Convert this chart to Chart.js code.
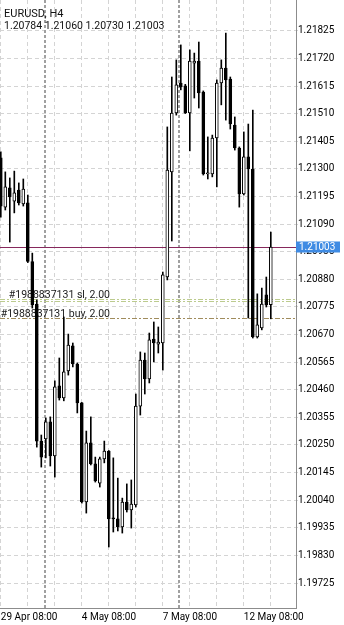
<!DOCTYPE html>
<html>
<head>
<meta charset="utf-8">
<script src="https://cdn.jsdelivr.net/npm/chart.js@4.4.0/dist/chart.umd.min.js"></script>
<style>
    html, body { margin: 0; padding: 0; background: #fff; }
    #tela { position: relative; width: 344px; height: 625px; }
    #grafico { display: block; }
    #cabecalho { position: absolute; left: 4px; top: 8px; font-family: Roboto, sans-serif; color: #111; pointer-events: none; }
    #simbolo { font-size: 11px; line-height: 12px; }
    #ohlc { font-size: 10.5px; line-height: 11px; }
</style>
</head>
<body>
<div id="tela">
    <canvas id="grafico" width="344" height="625"></canvas>
    <div id="cabecalho">
        <div id="simbolo">EURUSD, H4</div>
        <div id="ohlc"></div>
    </div>
</div>
<script>
// dados das velas H4 (indice da barra a partir de 29 Apr 08:00)
const abertura = [1.21342, 1.21155, 1.21228, 1.21178, 1.21220, 1.21167, 1.21171, 1.20948, 1.20786, 1.20265,
    1.20273, 1.20338, 1.20208, 1.20475, 1.20429, 1.20532, 1.20627, 1.20558, 1.20410, 1.20033,
    1.20258, 1.20178, 1.20105, 1.20197, 1.20227, 1.19972, 1.19969, 1.19938, 1.20033, 1.20003,
    1.20022, 1.20398, 1.20573, 1.20501, 1.20653, 1.20634, 1.20638, 1.20889, 1.21289, 1.21513,
    1.21627, 1.21616, 1.21513, 1.21703, 1.21711, 1.21593, 1.21281, 1.21281, 1.21418, 1.21627,
    1.21684, 1.21642, 1.21467, 1.21380, 1.21205, 1.21346, 1.21300, 1.20661, 1.20695, 1.20821,
    1.20784];
const maxima = [1.21365, 1.21289, 1.21266, 1.21292, 1.21247, 1.21262, 1.21201, 1.20980, 1.20802, 1.20288,
    1.20353, 1.20357, 1.20494, 1.20581, 1.20737, 1.20672, 1.20638, 1.20562, 1.20412, 1.20303,
    1.20357, 1.20204, 1.20204, 1.20265, 1.20229, 1.20201, 1.20124, 1.20048, 1.20102, 1.20117,
    1.20444, 1.20604, 1.20600, 1.20676, 1.20718, 1.20699, 1.20908, 1.21460, 1.21650, 1.21715,
    1.21772, 1.21622, 1.21753, 1.21741, 1.21783, 1.21597, 1.21422, 1.21429, 1.21639, 1.21715,
    1.21817, 1.21650, 1.21498, 1.21384, 1.21441, 1.21471, 1.21524, 1.20825, 1.20847, 1.20889,
    1.21060];
const minima = [1.21117, 1.21144, 1.21022, 1.21133, 1.21163, 1.21159, 1.20944, 1.20771, 1.20242, 1.20166,
    1.20201, 1.20170, 1.20128, 1.20421, 1.20418, 1.20516, 1.20547, 1.20372, 1.20029, 1.19991,
    1.20174, 1.20109, 1.20090, 1.20182, 1.19862, 1.19919, 1.19923, 1.19915, 1.19995, 1.19934,
    1.20014, 1.20364, 1.20444, 1.20486, 1.20566, 1.20600, 1.20535, 1.20878, 1.21026, 1.21505,
    1.21601, 1.21511, 1.21369, 1.21570, 1.21532, 1.21277, 1.21262, 1.21270, 1.21232, 1.21544,
    1.21486, 1.21452, 1.21372, 1.21155, 1.21201, 1.20733, 1.20657, 1.20657, 1.20688, 1.20775,
    1.20730];
const fechamento = [1.21159, 1.21232, 1.21194, 1.21209, 1.21171, 1.21224, 1.20948, 1.20783, 1.20265, 1.20204,
    1.20338, 1.20208, 1.20471, 1.20429, 1.20528, 1.20630, 1.20558, 1.20410, 1.20033, 1.20258,
    1.20178, 1.20113, 1.20197, 1.20227, 1.19969, 1.19969, 1.19938, 1.20033, 1.20003, 1.20025,
    1.20398, 1.20573, 1.20501, 1.20650, 1.20638, 1.20642, 1.20897, 1.21296, 1.21513, 1.21620,
    1.21612, 1.21513, 1.21711, 1.21711, 1.21589, 1.21281, 1.21285, 1.21418, 1.21627, 1.21684,
    1.21639, 1.21471, 1.21380, 1.21205, 1.21346, 1.21300, 1.20661, 1.20707, 1.20786, 1.20783,
    1.21003];

// eixo de tempo
const posRotulos = [0, 18, 36, 54];
const textoRotulos = ['29 Apr 08:00', '4 May 08:00', '7 May 08:00', '12 May 08:00'];
const gradeTempo = [0, 6, 12, 18, 24, 30, 36, 42, 48, 54, 60];
const separadores = [9.85, 39.7];

// eixo de preco
const precosEixo = [1.21825, 1.21720, 1.21615, 1.21510, 1.21405, 1.21300, 1.21195, 1.21090, 1.20985, 1.20880,
    1.20775, 1.20670, 1.20565, 1.20460, 1.20355, 1.20250, 1.20145, 1.20040, 1.19935, 1.19830, 1.19725];

// linhas de preco e ordens
const precoAtual = 1.21003;
const precoSl = 1.20800;
const precoBuy = 1.20732;
const textoSl = '#1988837131 sl, 2.00';
const textoBuy = '#1988837131 buy, 2.00';

var ultima = fechamento.length - 1;
document.getElementById('ohlc').textContent = abertura[ultima].toFixed(5) + ' ' + maxima[ultima].toFixed(5) + ' ' +
    minima[ultima].toFixed(5) + ' ' + fechamento[ultima].toFixed(5);

var corpos = [];
var pavios = [];
var cores = [];
for (var i = 0; i < abertura.length; i++) {
    corpos.push({ x: i, y: [abertura[i], fechamento[i]] });
    pavios.push({ x: i, y: [minima[i], maxima[i]] });
    cores.push(fechamento[i] >= abertura[i] ? '#ffffff' : '#000000');
}

function linhaHorizontal(ctx, area, y, cor, traco) {
    ctx.strokeStyle = cor;
    ctx.lineWidth = 1;
    ctx.setLineDash(traco);
    ctx.beginPath();
    ctx.moveTo(area.left, y);
    ctx.lineTo(area.right, y);
    ctx.stroke();
}

const extras = {
    id: 'extras',
    beforeDatasetsDraw(chart) {
        const ctx = chart.ctx;
        const area = chart.chartArea;
        const escX = chart.scales.x;
        const escY = chart.scales.y;
        ctx.save();

        // separadores de semana
        ctx.strokeStyle = '#a0a0a0';
        ctx.lineWidth = 2;
        ctx.setLineDash([3, 2]);
        separadores.forEach(function (s) {
            var px = Math.round(escX.getPixelForValue(s));
            ctx.beginPath();
            ctx.moveTo(px, area.top);
            ctx.lineTo(px, area.bottom);
            ctx.stroke();
        });

        // linha do preco atual
        var yAtual = Math.round(escY.getPixelForValue(precoAtual)) + 0.5;
        linhaHorizontal(ctx, area, yAtual, '#86285c', []);

        // linha sl (dupla)
        var ySl = Math.round(escY.getPixelForValue(precoSl)) + 0.5;
        linhaHorizontal(ctx, area, ySl - 1, '#bccb8e', [5, 2, 2, 2]);
        linhaHorizontal(ctx, area, ySl + 1, '#bccb8e', [5, 2, 2, 2]);

        // linha buy
        var yBuy = Math.round(escY.getPixelForValue(precoBuy)) + 0.5;
        linhaHorizontal(ctx, area, yBuy, '#a08c5c', [5, 2, 2, 2]);

        ctx.setLineDash([]);
        ctx.fillStyle = '#1a1a1a';
        ctx.font = '10.5px Roboto';
        ctx.textAlign = 'right';
        ctx.textBaseline = 'alphabetic';
        ctx.fillText(textoSl, 110, ySl - 3);
        ctx.fillText(textoBuy, 110, yBuy - 2);
        ctx.restore();
    },
    afterDraw(chart) {
        const ctx = chart.ctx;
        const area = chart.chartArea;
        var yAtual = Math.round(chart.scales.y.getPixelForValue(precoAtual));
        ctx.save();
        ctx.fillStyle = '#3f8be3';
        ctx.fillRect(area.right, yAtual - 5.5, 44, 11);
        ctx.fillStyle = '#ffffff';
        ctx.font = '10px Roboto';
        ctx.textAlign = 'left';
        ctx.textBaseline = 'middle';
        ctx.fillText(precoAtual.toFixed(5), area.right + 3, yAtual + 0.5);
        ctx.restore();
    }
};

const ctx = document.getElementById('grafico');

new Chart(ctx, {
    type: 'bar',
    data: {
        datasets: [{
            label: 'corpo',
            data: corpos,
            backgroundColor: cores,
            borderColor: '#000000',
            borderWidth: 1,
            borderSkipped: false,
            barThickness: 3,
            minBarLength: 1,
            grouped: false,
            order: 0
        }, {
            label: 'pavio',
            data: pavios,
            backgroundColor: '#000000',
            borderWidth: 0,
            barThickness: 1,
            grouped: false,
            order: 1
        }]
    },
    options: {
        responsive: false,
        animation: false,
        devicePixelRatio: 1,
        layout: { padding: 0 },
        plugins: {
            legend: { display: false },
            tooltip: { enabled: false }
        },
        scales: {
            x: {
                type: 'linear',
                position: 'bottom',
                min: -0.178,
                max: 65.6,
                offset: false,
                grid: { offset: false, color: '#d4d4d4', drawTicks: false },
                border: { color: '#8c8c8c', dash: [4, 3] },
                afterBuildTicks: function (escala) {
                    escala.ticks = gradeTempo.map(function (v) { return { value: v }; });
                },
                afterFit: function (escala) {
                    escala.height = 17;
                    escala.paddingLeft = 0;
                    escala.paddingRight = 0;
                },
                ticks: {
                    autoSkip: false,
                    maxRotation: 0,
                    align: 'start',
                    padding: 3,
                    color: '#000000',
                    font: { family: 'Roboto', size: 10 },
                    callback: function (valor) {
                        var k = posRotulos.indexOf(valor);
                        return k >= 0 ? textoRotulos[k] : '';
                    }
                }
            },
            y: {
                type: 'linear',
                position: 'right',
                min: 1.196299,
                max: 1.219429,
                grid: { color: '#d4d4d4', tickLength: 2 },
                border: { color: '#8c8c8c', dash: [4, 3] },
                afterBuildTicks: function (escala) {
                    escala.ticks = precosEixo.map(function (v) { return { value: v }; });
                },
                afterFit: function (escala) {
                    escala.width = 48;
                    escala.paddingTop = 0;
                    escala.paddingBottom = 0;
                },
                ticks: {
                    padding: 0,
                    color: '#000000',
                    font: { family: 'Roboto', size: 10 },
                    callback: function (valor) {
                        return valor.toFixed(5);
                    }
                }
            }
        }
    },
    plugins: [extras]
});
</script>
</body>
</html>
